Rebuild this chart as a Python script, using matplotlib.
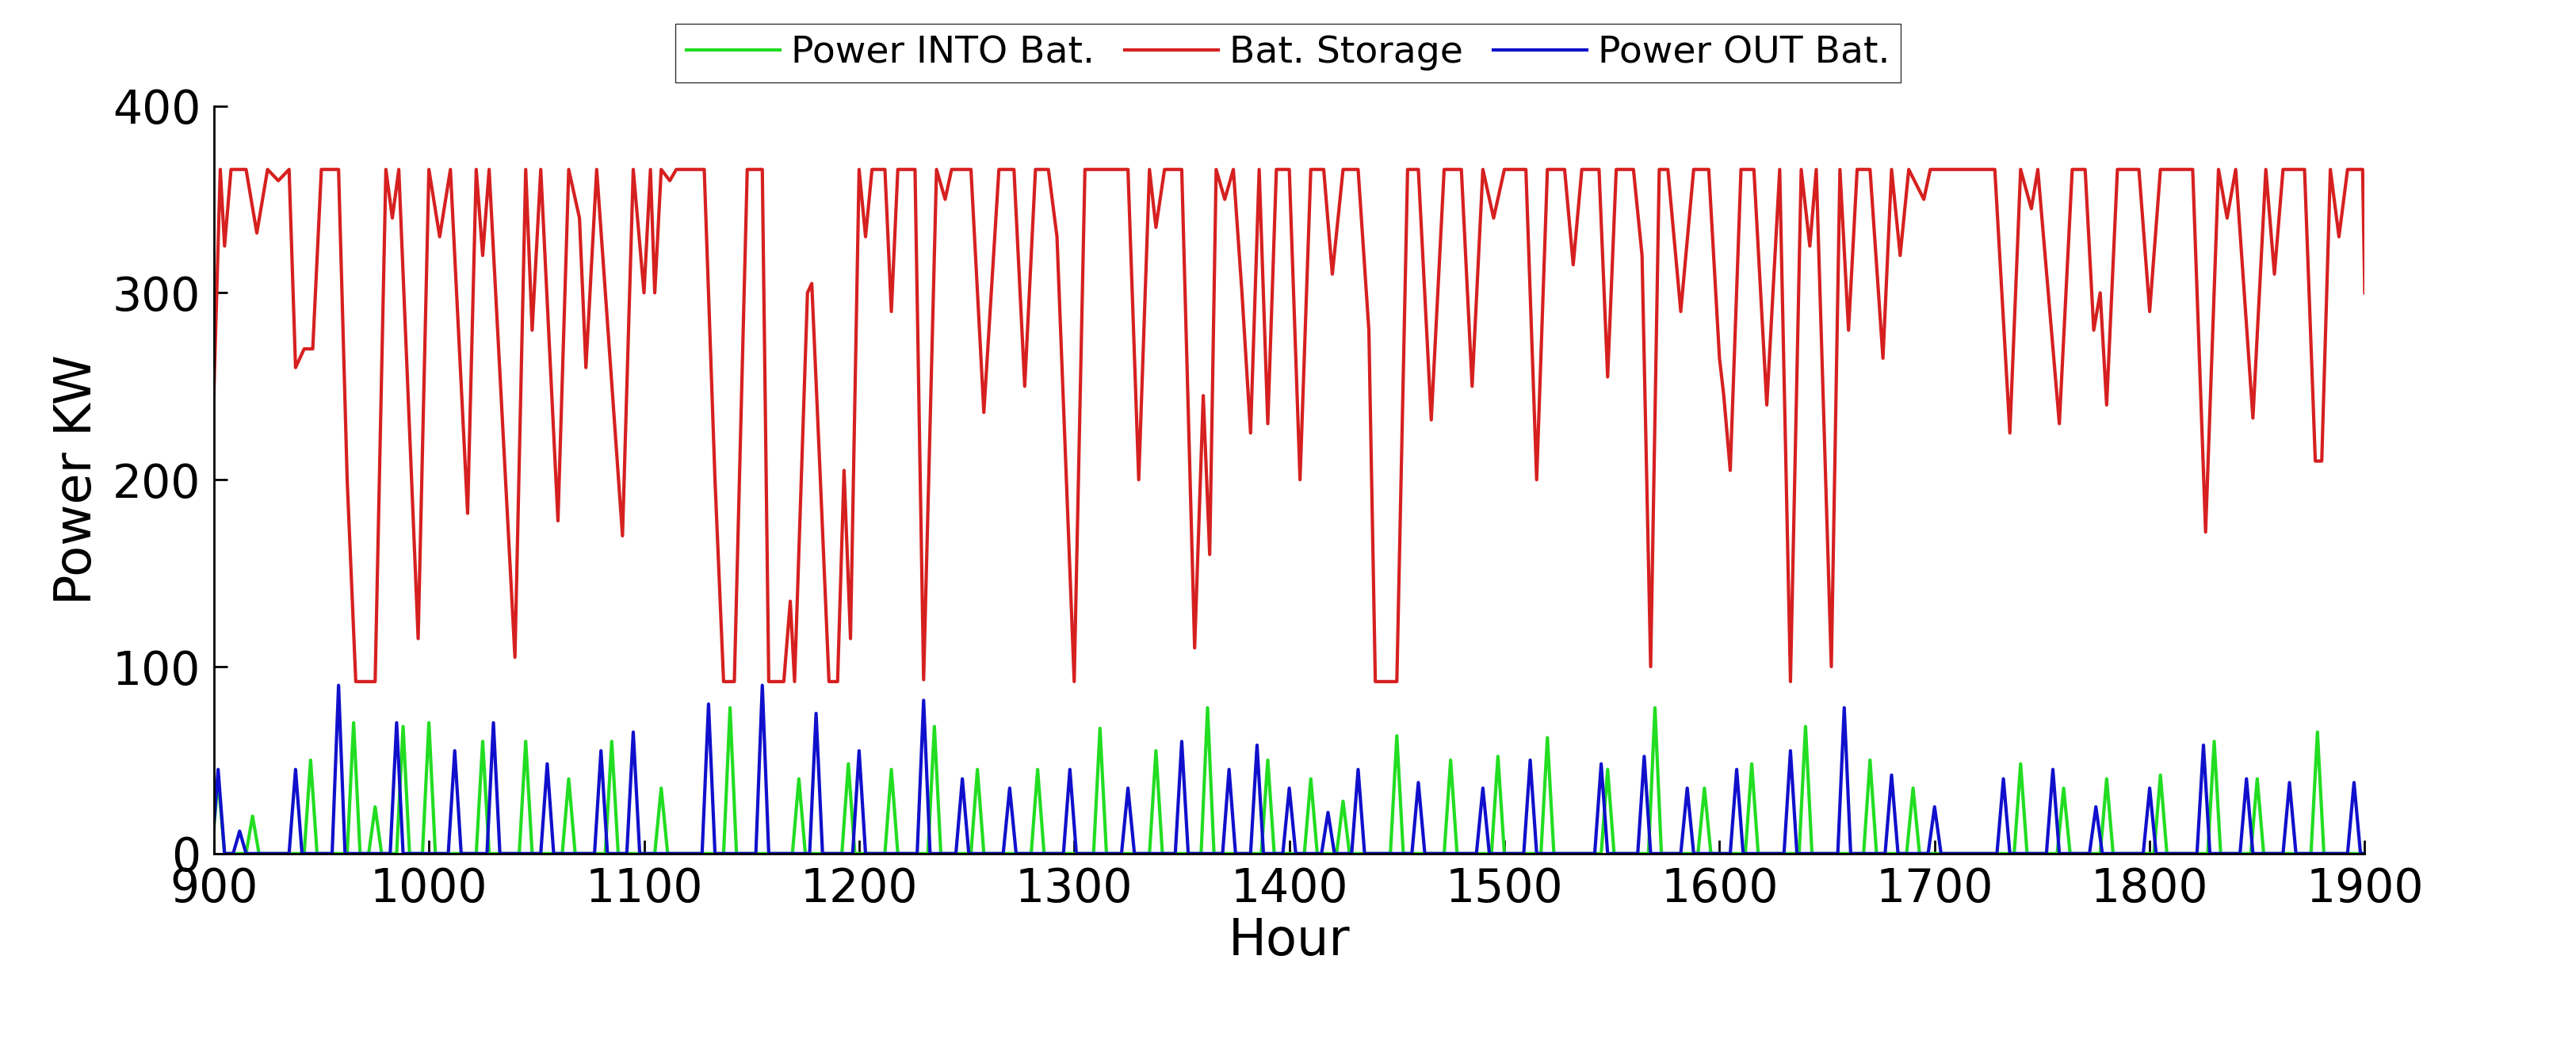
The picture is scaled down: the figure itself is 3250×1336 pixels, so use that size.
import matplotlib
matplotlib.use("Agg")
import matplotlib.pyplot as plt

store_h = [900,903,905,908,915,920,925,930,935,938,942,946,950,958,962,966,975,980,983,986,995,1000,1005,1010,1018,1022,1025,1028,1040,1045,1048,1052,1060,1065,1070,1073,1078,1090,1095,1100,1103,1105,1108,1112,1115,1128,1133,1137,1142,1148,1155,1158,1165,1168,1170,1176,1178,1182,1186,1190,1193,1196,1200,1203,1206,1212,1215,1218,1226,1230,1236,1240,1243,1252,1258,1265,1272,1277,1282,1288,1292,1300,1305,1325,1330,1335,1338,1342,1350,1356,1360,1363,1366,1370,1374,1378,1382,1386,1390,1394,1400,1405,1410,1416,1420,1425,1432,1437,1440,1450,1455,1460,1466,1472,1480,1485,1490,1495,1500,1510,1515,1520,1528,1532,1536,1544,1548,1552,1560,1564,1568,1572,1576,1582,1588,1595,1600,1602,1605,1610,1616,1622,1628,1633,1638,1642,1645,1652,1656,1660,1664,1670,1676,1680,1684,1688,1695,1698,1728,1735,1740,1745,1748,1758,1764,1770,1774,1777,1780,1785,1795,1800,1805,1820,1826,1832,1836,1840,1848,1854,1858,1862,1872,1877,1880,1884,1888,1892,1899,1900]
store_v = [245,366,325,366,366,332,366,360,366,260,270,270,366,366,200,92,92,366,340,366,115,366,330,366,182,366,320,366,105,366,280,366,178,366,340,260,366,170,366,300,366,300,366,360,366,366,200,92,92,366,366,92,92,135,92,300,305,200,92,92,205,115,366,330,366,366,290,366,366,93,366,350,366,366,236,366,366,250,366,366,330,92,366,366,200,366,335,366,366,110,245,160,366,350,366,300,225,366,230,366,366,200,366,366,310,366,366,280,92,92,366,366,232,366,366,250,366,340,366,366,200,366,366,315,366,366,255,366,366,320,100,366,366,290,366,366,265,245,205,366,366,240,366,92,366,325,366,100,366,280,366,366,265,366,320,366,350,366,366,225,366,345,366,230,366,366,280,300,240,366,366,290,366,366,172,366,340,366,233,366,310,366,366,210,210,366,330,366,366,300]

in_h = [902,918,945,965,975,988,1000,1025,1045,1065,1085,1108,1140,1172,1195,1215,1235,1255,1283,1312,1338,1362,1390,1410,1425,1450,1475,1497,1520,1548,1570,1593,1615,1640,1670,1690,1740,1760,1780,1805,1830,1850,1878]
in_v = [40,20,50,70,25,68,70,60,60,40,60,35,78,40,48,45,68,45,45,67,55,78,50,40,28,63,50,52,62,45,78,35,48,68,50,35,48,35,40,42,60,40,65]
out_h = [902,912,938,958,985,1012,1030,1055,1080,1095,1130,1155,1180,1200,1230,1248,1270,1298,1325,1350,1372,1385,1400,1418,1432,1460,1490,1512,1545,1565,1585,1608,1633,1658,1680,1700,1732,1755,1775,1800,1825,1845,1865,1895]
out_v = [45,12,45,90,70,55,70,48,55,65,80,90,75,55,82,40,35,45,35,60,45,58,35,22,45,38,35,50,48,52,35,45,55,78,42,25,40,45,25,35,58,40,38,38]

def spikes(h, v, w=3):
    xs, ys = [900], [0]
    for c, p in zip(h, v):
        xs += [c - w, c, c + w]
        ys += [0, p, 0]
    xs.append(1900); ys.append(0)
    return xs, ys

fig = plt.figure(figsize=(32.5, 13.36), dpi=100)
ax = fig.add_axes([0.083, 0.194, 0.835, 0.706])
gx, gy = spikes(in_h, in_v)
bx, by = spikes(out_h, out_v)
ax.plot(gx, gy, color="#22dd22", lw=3, label="Power INTO Bat.")
ax.plot(store_h, store_v, color="#d62020", lw=3, label="Bat. Storage")
ax.plot(bx, by, color="#1010cc", lw=3, label="Power OUT Bat.")
ax.set_xlim(900, 1900)
ax.set_ylim(0, 400)
ax.set_xticks(range(900, 2000, 100))
ax.set_yticks(range(0, 500, 100))
ax.tick_params(labelsize=42, direction="in", length=12, width=2)
ax.tick_params(axis="x", pad=12)
ax.tick_params(axis="y", pad=12)
for s in ["top", "right"]:
    ax.spines[s].set_visible(False)
for s in ["left", "bottom"]:
    ax.spines[s].set_linewidth(2)
ax.set_xlabel("Hour", fontsize=46, labelpad=4)
ax.set_ylabel("Power KW", fontsize=46, labelpad=10)
fig.legend(loc="upper center", bbox_to_anchor=(0.5, 0.995), ncol=3, fontsize=34,
           frameon=True, fancybox=False, edgecolor="black", handlelength=2.5,
           columnspacing=0.8, borderpad=0.3, handletextpad=0.3)
fig.savefig("out.png")
